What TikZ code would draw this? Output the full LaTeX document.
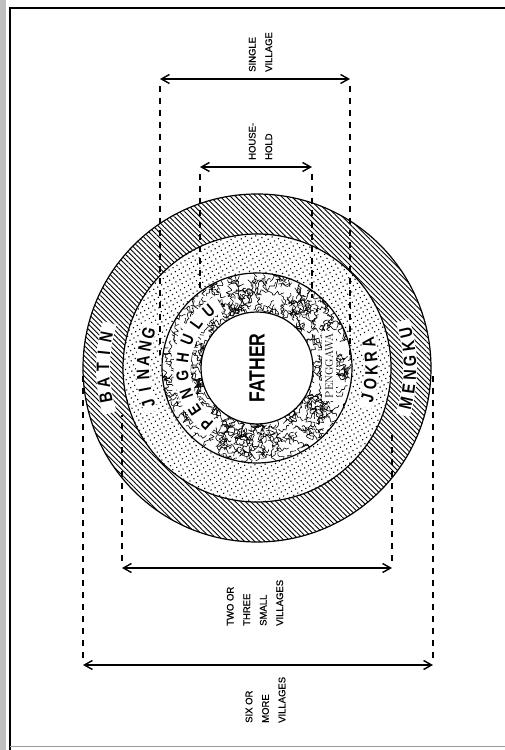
\documentclass[tikz,border=0pt]{standalone}
\usepackage{fontspec}
\usetikzlibrary{arrows.meta,patterns.meta}
\newfontfamily\labfont[FakeBold=0.6]{Liberation Sans}
\newfontfamily\ringfont[FakeStretch=0.8]{Liberation Sans}

\begin{document}
\begin{tikzpicture}[
    x=1pt, y=1pt,
    ring/.style={line width=1.2pt},
    worm/.style={line width=0.6pt},
    band/.style={white, line width=14pt},
    dim/.style={line width=1.4pt,
      {Straight Barb[length=8pt,width=9pt]}-{Straight Barb[length=8pt,width=9pt]}},
    ext/.style={line width=1.4pt, dash pattern=on 6pt off 6pt},
    lab/.style={font=\labfont\fontsize{9.5}{16.5}\selectfont,
      rotate=90, anchor=west, align=left, inner sep=0pt},
    letter/.style={font=\ringfont\bfseries\fontsize{18}{18}\selectfont,
      inner sep=0.3pt}
  ]
  \useasboundingbox (0,0) rectangle (505,750);
  \fill[black!25] (0,0) rectangle (6,750);
  \draw[line width=1.3pt] (10,0) -- (10,742) -- (505,742);
  \draw[black!40, line width=1pt] (10,3) -- (505,3);

  \coordinate (c) at (257,382);

  \fill[white] (c) circle (174);
  \fill[pattern={Lines[angle=-45,distance=3.6pt,line width=0.9pt]}] (c) circle (174);
  \fill[white] (c) circle (134);
  \fill[pattern={Dots[distance=4.6pt,radius=0.8pt,angle=30]}] (c) circle (134);
  \fill[white] (c) circle (95);
  \begin{scope}
    \clip (c) circle (95);
    \pgfmathsetseed{7}
    \begin{scope}[shift={(c)}]
      \foreach \i in {1,...,600} {
        \pgfmathsetmacro\t{360*rnd}
        \pgfmathsetmacro\rr{55+42*rnd}
        \pgfmathsetmacro\q{360*rnd}
        \draw[worm, shift={(\t:\rr)}, rotate=\q]
          plot[smooth, tension=0.9, samples=6, domain=0:5] ({2.2*\x-5.5}, {2.6*rand});
      }
    \end{scope}
  \end{scope}
  \fill[white] (c) circle (56);

  \draw[band] ([shift={(197:154)}]c) arc[start angle=197, end angle=163, radius=154];
  \draw[band] ([shift={(203:114)}]c) arc[start angle=203, end angle=157, radius=114];
  \draw[band, line width=17pt] ([shift={(235:75)}]c) arc[start angle=235, end angle=120, radius=75];
  \draw[band] ([shift={(-20:114.5)}]c) arc[start angle=-20, end angle=17, radius=114.5];
  \draw[band] ([shift={(-18:153)}]c) arc[start angle=-18, end angle=18, radius=153];

  \foreach \r in {56,95,134,174}
    \draw[ring] (c) circle (\r);

  \node[font=\ringfont\bfseries\fontsize{22}{22}\selectfont, rotate=90] (father) at (c) {FATHER};
  \node[rotate=90, fill=white, font=\fontsize{11}{11}\selectfont, inner sep=2.5pt]
    (penggawa) at (329,384) {PENGGAWA};

  \foreach \l [count=\i] in {B,A,T,I,N} {
    \pgfmathsetmacro\a{191-5.6*(\i-1)}
    \node[letter, rotate=\a-90] (batin\i) at ([shift={(\a:154)}]c) {\l};
  }
  \foreach \l [count=\i] in {J,I,N,A,N,G} {
    \pgfmathsetmacro\a{198-7.2*(\i-1)}
    \node[letter, rotate=\a-90] (jinang\i) at ([shift={(\a:114)}]c) {\l};
  }
  \foreach \l [count=\i] in {P,E,N,G,H,U,L,U} {
    \pgfmathsetmacro\a{228-14*(\i-1)}
    \node[letter, font=\ringfont\bfseries\fontsize{17}{17}\selectfont, rotate=\a-90]
      (penghulu\i) at ([shift={(\a:75)}]c) {\l};
  }
  \foreach \l [count=\i] in {J,O,K,R,A} {
    \pgfmathsetmacro\a{-15+6.9*(\i-1)}
    \node[letter, rotate=\a+90] (jokra\i) at ([shift={(\a:114.5)}]c) {\l};
  }
  \foreach \l [count=\i] in {M,E,N,G,K,U} {
    \pgfmathsetmacro\a{-13.2+5.3*(\i-1)}
    \node[letter, rotate=\a+90] (mengku\i) at ([shift={(\a:153)}]c) {\l};
  }

  \coordinate (sv-l) at (160,671);
  \coordinate (sv-r) at (350,671);
  \coordinate (hh-l) at (200,583);
  \coordinate (hh-r) at (312,583);
  \coordinate (tt-l) at (122,182);
  \coordinate (tt-r) at (392,182);
  \coordinate (sm-l) at (83,85);
  \coordinate (sm-r) at (433,85);

  \draw[ext] ([yshift=-7pt]sv-l) -- (160,395);
  \draw[ext] ([yshift=-7pt]sv-r) -- (350,395);
  \draw[ext] ([yshift=-7pt]hh-l) -- (200,460);
  \draw[ext] ([yshift=-7pt]hh-r) -- (312,452);
  \draw[ext] ([yshift=7pt]tt-l) -- (122,335);
  \draw[ext] ([yshift=7pt]tt-r) -- (392,320);
  \draw[ext] ([yshift=7pt]sm-l) -- (83,378);
  \draw[ext] ([yshift=7pt]sm-r) -- (433,378);

  \draw[dim] (sv-l) -- (sv-r);
  \draw[dim] (hh-l) -- (hh-r);
  \draw[dim] (tt-l) -- (tt-r);
  \draw[dim] (sm-l) -- (sm-r);

  \node[lab] (single) at (260.5,678) {SINGLE\\VILLAGE};
  \node[lab] (house) at (260.5,590) {HOUSE-\\HOLD};
  \node[lab] (twothree) at (255,124) {TWO OR\\THREE\\SMALL\\VILLAGES};
  \node[lab] (sixmore) at (265.5,27) {SIX OR\\MORE\\VILLAGES};
\end{tikzpicture}
\end{document}
